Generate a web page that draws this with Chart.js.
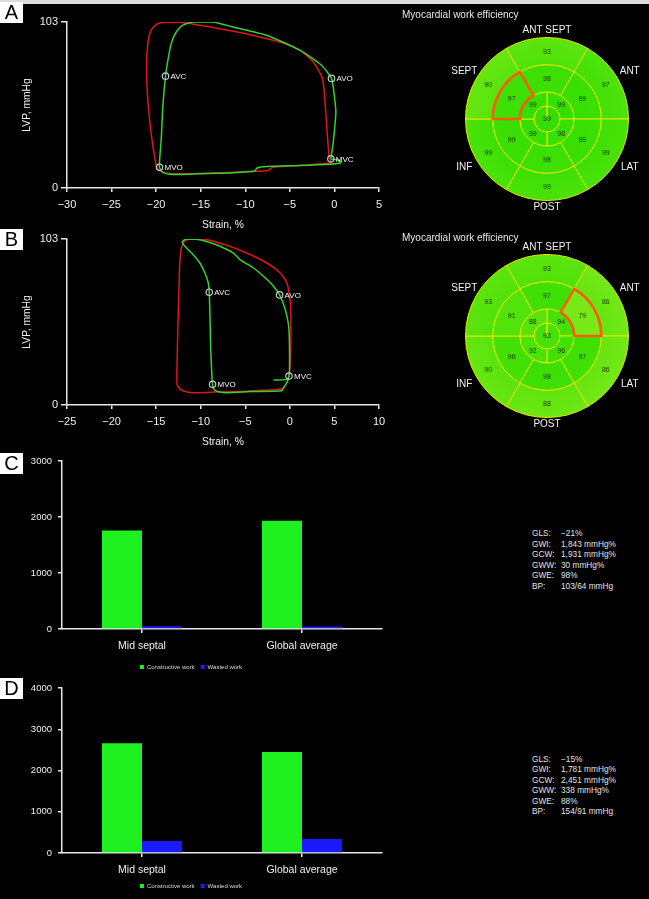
<!DOCTYPE html>
<html>
<head>
<meta charset="utf-8">
<title>Myocardial work</title>
<script src="https://cdn.jsdelivr.net/npm/chart.js@4"></script>
<style>
  body { margin: 0; background: #000; font-family: "Liberation Sans", Arial, sans-serif; }
  #page { position: relative; width: 649px; height: 899px; overflow: hidden; background: #000; }
  #page canvas { position: absolute; }
  .strip { position: absolute; left: 0; top: 0; width: 649px; height: 4px; background: #dcdcdc; }
  .tag { position: absolute; left: 0; width: 23px; height: 21px; background: #fff; color: #000;
         font-size: 20px; line-height: 21px; text-align: center; z-index: 5; }
  .bull-title { position: absolute; left: 402px; font-size: 10px; line-height: 12px; color: #e8e8e8; }
  .stats { position: absolute; left: 532px; font-size: 8.3px; color: #e4e4e4; white-space: nowrap; }
  .stats span { display: inline-block; width: 29px; }
</style>
</head>
<body>
<div id="page">
  <div class="strip"></div>

  <canvas id="loopA" width="400" height="235" style="left:0;top:0"></canvas>
  <canvas id="bullA" width="249" height="230" style="left:400px;top:0"></canvas>
  <canvas id="loopB" width="400" height="235" style="left:0;top:217px"></canvas>
  <canvas id="bullB" width="249" height="230" style="left:400px;top:217px"></canvas>
  <canvas id="barC" width="420" height="240" style="left:0;top:440px"></canvas>
  <canvas id="barD" width="420" height="231" style="left:0;top:668px"></canvas>

  <div class="tag" style="top:2px">A</div>
  <div class="tag" style="top:229px">B</div>
  <div class="tag" style="top:453px">C</div>
  <div class="tag" style="top:678px">D</div>

  <div class="bull-title" style="top:9px">Myocardial work efficiency</div>
  <div class="bull-title" style="top:232px">Myocardial work efficiency</div>

  <div class="stats" id="statsC" style="top:528px;line-height:10.6px"></div>
  <div class="stats" id="statsD" style="top:754px;line-height:10.4px"></div>
</div>

<script>
// ─────────────────────────────────────────────
// DATA – pressure-strain loops (strain %, LVP mmHg)
// ─────────────────────────────────────────────
const strainTicksA = [-30, 5];
const strainTicksB = [-25, 10];
const lvpTicks = [0, 103];

const redStrainA = [-0.33, -0.59, -0.81, -1.07, -1.34, -2.39, -3.89, -5.76, -8.38, -11.38, -14.38, -16.62, -18.5, -19.81, -20.56, -20.93, -21.08, -20.93, -20.56, -20.18, -19.88, -19.25, -17.75, -13.25, -9.5, -7.44, -6.96, -5.76, -3.14, -0.33];
const redLvpA = [15.5, 19.6, 34, 54.6, 68, 78.3, 85.5, 90, 93.7, 97.2, 100.3, 102.4, 103, 102, 97.9, 89.6, 75.2, 54.6, 34, 19.6, 12.4, 9.7, 8.9, 9.3, 10.3, 10.9, 12.8, 13.4, 14.2, 15.5];
const greenStrainA = [-0.4, -0.14, 0.16, -0.14, -0.33, -1.45, -3.89, -7.63, -11.38, -13.63, -15.87, -17, -17.75, -18.31, -18.68, -18.95, -19.25, -19.43, -19.58, -19.62, -19.25, -18.12, -15.13, -11.38, -8.94, -8.68, -7.63, -3.89, -0.51, 0.69, 0.61, -0.4];
const greenLvpA = [18.1, 27.8, 47.4, 62.8, 68, 76.2, 85.5, 94.8, 99.9, 103, 103, 101, 96.8, 89.6, 79.3, 69.4, 50.5, 29.9, 19.6, 12.8, 9.7, 8.4, 8.9, 9.5, 10.5, 12.4, 13.4, 14, 14.8, 15.5, 17.1, 18.1];

const redStrainB = [-0.33, -0.1, 0.05, 0.12, 0.05, -0.33, -1.08, -2.58, -4.83, -7.09, -9.34, -10.84, -11.78, -12.16, -12.35, -12.46, -12.57, -12.65, -12.65, -12.16, -11.03, -8.21, -4.46, -0.89, -0.33];
const redLvpB = [13.4, 18, 26.2, 46.9, 63.4, 75.7, 81.9, 88.1, 94.3, 99.1, 102.6, 103, 102, 97.4, 88.1, 67.5, 46.9, 26.2, 12.8, 9.3, 7.6, 8, 8.7, 10.1, 13.4];
const greenStrainB = [-1.83, -0.33, -0.1, -0.03, -0.1, -0.33, -0.7, -1.15, -1.83, -2.96, -4.08, -5.59, -6.34, -7.84, -9.34, -10.84, -11.78, -12.08, -11.59, -10.84, -10.09, -9.53, -9.15, -9.04, -8.97, -8.89, -8.78, -8.67, -8.4, -7.28, -4.46, -0.89, -0.7, -0.25, -0.1];
const greenLvpB = [15.5, 15.9, 18, 26.2, 46.9, 55.1, 62.3, 68.3, 73.7, 79.9, 85, 90.2, 94.3, 98.5, 101.5, 103, 102.6, 100.9, 97.4, 93.3, 88.1, 81.9, 75.7, 70, 57.2, 36.5, 22.1, 12.8, 9.1, 7.6, 8.3, 8.9, 10.7, 14.9, 18];

const markerNames = ['AVC', 'AVO', 'MVO', 'MVC'];
const markerStrainA = [-18.95, -0.33, -19.62, -0.4];
const markerLvpA = [69.4, 68, 12.8, 18.1];
const markerStrainB = [-9.04, -1.15, -8.67, -0.1];
const markerLvpB = [70, 68.3, 12.8, 18];

// ─────────────────────────────────────────────
// DATA – bullseye (myocardial work efficiency, %)
// segments clockwise from the top
// ─────────────────────────────────────────────
const wallLabels = ['ANT SEPT', 'ANT', 'LAT', 'POST', 'INF', 'SEPT'];
const basalA = [93, 97, 99, 99, 99, 90];
const midA = [98, 99, 99, 98, 99, 97];
const apicalA = [99, 98, 99, 99];
const apexA = [99];
const basalB = [93, 86, 86, 88, 90, 93];
const midB = [97, 79, 97, 98, 96, 91];
const apicalB = [94, 96, 92, 88];
const apexB = [93];

// ─────────────────────────────────────────────
// DATA – work bars (mmHg%)
// ─────────────────────────────────────────────
const workCategories = ['Mid septal', 'Global average'];
const constructiveC = [1760, 1931];
const wastedC = [50, 45];
const constructiveD = [2660, 2451];
const wastedD = [290, 338];
const workTicksC = [0, 1000, 2000, 3000];
const workTicksD = [0, 1000, 2000, 3000, 4000];

const statNames = ['GLS:', 'GWI:', 'GCW:', 'GWW:', 'GWE:', 'BP:'];
const statsC = ['\u221221%', '1,843 mmHg%', '1,931 mmHg%', '30 mmHg%', '98%', '103/64 mmHg'];
const statsD = ['\u221215%', '1,781 mmHg%', '2,451 mmHg%', '338 mmHg%', '88%', '154/91 mmHg'];


Chart.defaults.font.family = '"Liberation Sans", Arial, sans-serif';
Chart.defaults.color = '#f0f0f0';

const AXIS = '#e6e6e6';
const toPoints = (xs, ys) => xs.map((x, i) => ({ x, y: ys[i] }));
const minus = v => (v < 0 ? '\u2212' + Math.abs(v) : String(v));


// ─────────────────────────────────────────────
// LOOP CHARTS
// ─────────────────────────────────────────────
const markerLabels = {
  id: 'markerLabels',
  afterDatasetsDraw(chart) {
    const ctx = chart.ctx;
    const names = chart.data.datasets[0].names;
    ctx.save();
    ctx.font = '8px "Liberation Sans", Arial, sans-serif';
    ctx.fillStyle = '#f2f2f2';
    ctx.textBaseline = 'middle';
    chart.getDatasetMeta(0).data.forEach((pt, i) => ctx.fillText(names[i], pt.x + 5, pt.y + 0.5));
    ctx.restore();
  }
};

function loopChart(id, red, green, marks, xRange) {
  return new Chart(document.getElementById(id), {
    type: 'scatter',
    data: {
      datasets: [
        { data: marks, names: markerNames, showLine: false, pointRadius: 3.2,
          pointBorderColor: '#c8c8c8', pointBackgroundColor: 'rgba(0,0,0,0)', pointBorderWidth: 1.2 },
        { data: green, showLine: true, borderColor: '#2fd42f', borderWidth: 1.5, pointRadius: 0, tension: 0.2 },
        { data: red, showLine: true, borderColor: '#e0141a', borderWidth: 1.5, pointRadius: 0, tension: 0.2 }
      ]
    },
    options: {
      responsive: false,
      animation: false,
      events: [],
      layout: { padding: { top: 22, right: 21, left: 0, bottom: 0 } },
      plugins: { legend: { display: false }, tooltip: { enabled: false } },
      scales: {
        x: {
          type: 'linear', min: xRange[0], max: xRange[1],
          ticks: { stepSize: 5, color: '#f0f0f0', font: { size: 11 }, padding: 6, callback: minus },
          grid: { drawOnChartArea: false, color: AXIS, tickLength: 4, lineWidth: 1.5 },
          border: { color: AXIS, width: 1.5 },
          title: { display: true, text: 'Strain, %', color: '#f0f0f0', font: { size: 10.3 }, padding: { top: 0, bottom: 4 } },
          afterFit: s => { s.height = 47; }
        },
        y: {
          min: lvpTicks[0], max: lvpTicks[1],
          afterBuildTicks: s => { s.ticks = lvpTicks.map(v => ({ value: v })); },
          ticks: { color: '#f0f0f0', font: { size: 11 }, padding: 3 },
          grid: { drawOnChartArea: false, color: AXIS, tickLength: 6, lineWidth: 1.5 },
          border: { color: AXIS, width: 1.5 },
          title: { display: true, text: 'LVP, mmHg', color: '#f0f0f0', font: { size: 10.3 }, padding: { top: 21, bottom: 0 } },
          afterFit: s => { s.width = 67; }
        }
      }
    },
    plugins: [markerLabels]
  });
}

loopChart('loopA', toPoints(redStrainA, redLvpA), toPoints(greenStrainA, greenLvpA),
  toPoints(markerStrainA, markerLvpA), strainTicksA);
loopChart('loopB', toPoints(redStrainB, redLvpB), toPoints(greenStrainB, greenLvpB),
  toPoints(markerStrainB, markerLvpB), strainTicksB);


// ─────────────────────────────────────────────
// BULLSEYE CHARTS
// ─────────────────────────────────────────────
function effColour(v, rim) {
  const t = Math.min(1, (100 - v) / 40 + rim * 0.18);
  const g = [48, 222, 0], y = [175, 240, 40];
  return 'rgb(' + g.map((c, k) => Math.round(c + (y[k] - c) * t)).join(',') + ')';
}

function segmentFill(ctx) {
  const v = ctx.dataset.eff[ctx.dataIndex];
  const area = ctx.chart.chartArea;
  if (!area) return effColour(v, 0.5);
  const cx = (area.left + area.right) / 2, cy = (area.top + area.bottom) / 2;
  const r = Math.min(area.width, area.height) / 2;
  const grad = ctx.chart.ctx.createRadialGradient(cx, cy, 0, cx, cy, r);
  grad.addColorStop(0, effColour(v, 0));
  grad.addColorStop(0.6, effColour(v, 0.3));
  grad.addColorStop(1, effColour(v, 1));
  return grad;
}

const bullseyeText = {
  id: 'bullseyeText',
  afterDatasetsDraw(chart) {
    const ctx = chart.ctx;
    ctx.save();
    ctx.textAlign = 'center';
    ctx.textBaseline = 'middle';

    // highlighted segment
    chart.data.datasets.forEach((ds, di) => {
      if (ds.highlight === undefined) return;
      const arc = chart.getDatasetMeta(di).data[ds.highlight];
      const p = arc.getProps(['x', 'y', 'startAngle', 'endAngle', 'innerRadius', 'outerRadius']);
      ctx.beginPath();
      ctx.arc(p.x, p.y, p.outerRadius, p.startAngle, p.endAngle);
      ctx.arc(p.x, p.y, p.innerRadius, p.endAngle, p.startAngle, true);
      ctx.closePath();
      ctx.strokeStyle = '#ff5a12';
      ctx.lineWidth = 2.6;
      ctx.stroke();
    });

    // segment values
    ctx.font = '7px "Liberation Sans", Arial, sans-serif';
    ctx.fillStyle = '#1c3200';
    chart.data.datasets.forEach((ds, di) => {
      chart.getDatasetMeta(di).data.forEach((arc, i) => {
        const p = arc.getProps(['x', 'y', 'startAngle', 'endAngle']);
        const c = (p.endAngle - p.startAngle > 6.2) ? p : arc.getCenterPoint();
        ctx.fillText(String(ds.eff[i]), c.x, c.y + 0.5);
      });
    });

    // wall labels round the rim
    const outer = chart.getDatasetMeta(0).data[0].getProps(['x', 'y', 'outerRadius']);
    ctx.font = '10px "Liberation Sans", Arial, sans-serif';
    ctx.fillStyle = '#f2f2f2';
    wallLabels.forEach((name, k) => {
      const a = k * Math.PI / 3;
      const r = outer.outerRadius + (k % 3 === 0 ? 7 : 14);
      ctx.fillText(name, outer.x + r * Math.sin(a), outer.y - r * Math.cos(a));
    });
    ctx.restore();
  }
};

function ring(values, weight, rotation, highlight) {
  return {
    data: values.map(() => 1),
    eff: values,
    highlight,
    weight,
    rotation,
    backgroundColor: segmentFill,
    borderColor: '#e6e600',
    borderWidth: 1,
    hoverOffset: 0
  };
}

function bullseye(id, basal, mid, apical, apex, highlightMid) {
  return new Chart(document.getElementById(id), {
    type: 'doughnut',
    data: {
      labels: wallLabels,
      datasets: [
        ring(basal, 27, -30),
        ring(mid, 27, -30, highlightMid),
        ring(apical, 14, 0),
        ring(apex, 13, 0)
      ]
    },
    options: {
      responsive: false,
      animation: false,
      events: [],
      cutout: 0,
      layout: { padding: { left: 65, right: 20, top: 37, bottom: 29 } },
      plugins: { legend: { display: false }, tooltip: { enabled: false } }
    },
    plugins: [bullseyeText]
  });
}

bullseye('bullA', basalA, midA, apicalA, apexA, 5);
bullseye('bullB', basalB, midB, apicalB, apexB, 1);


// ─────────────────────────────────────────────
// WORK BAR CHARTS
// ─────────────────────────────────────────────
function workChart(id, constructive, wasted, yTicks, padTop, xHeight) {
  return new Chart(document.getElementById(id), {
    type: 'bar',
    data: {
      labels: workCategories,
      datasets: [
        { label: 'Constructive work', data: constructive, backgroundColor: '#1ff01f' },
        { label: 'Wasted work', data: wasted, backgroundColor: '#1a1aff' }
      ]
    },
    options: {
      responsive: false,
      animation: false,
      events: [],
      layout: { padding: { top: padTop, right: 38, left: 0, bottom: 0 } },
      datasets: { bar: { categoryPercentage: 0.5, barPercentage: 1 } },
      plugins: {
        tooltip: { enabled: false },
        legend: {
          position: 'bottom',
          labels: { color: '#dcdcdc', font: { size: 6 }, boxWidth: 4, boxHeight: 4, padding: 6 }
        }
      },
      scales: {
        x: {
          ticks: { color: '#f0f0f0', font: { size: 10.5 }, padding: 7 },
          grid: { offset: false, drawOnChartArea: false, color: AXIS, tickLength: 4, lineWidth: 1.5 },
          border: { color: AXIS, width: 1.5 },
          afterFit: s => { s.height = xHeight; }
        },
        y: {
          min: yTicks[0], max: yTicks[yTicks.length - 1],
          afterBuildTicks: s => { s.ticks = yTicks.map(v => ({ value: v })); },
          ticks: { color: '#f0f0f0', font: { size: 9.5 }, padding: 6, callback: v => String(v) },
          grid: { drawOnChartArea: false, color: AXIS, tickLength: 4, lineWidth: 1.5 },
          border: { color: AXIS, width: 1.5 },
          afterFit: s => { s.width = 62; }
        }
      }
    }
  });
}

workChart('barC', constructiveC, wastedC, workTicksC, 21, 29);
workChart('barD', constructiveD, wastedD, workTicksD, 20, 24);


// ─────────────────────────────────────────────
// SUMMARY TEXT
// ─────────────────────────────────────────────
function fillStats(id, values) {
  const box = document.getElementById(id);
  statNames.forEach((name, i) => {
    const line = document.createElement('div');
    const label = document.createElement('span');
    label.textContent = name;
    line.appendChild(label);
    line.appendChild(document.createTextNode(values[i]));
    box.appendChild(line);
  });
}
fillStats('statsC', statsC);
fillStats('statsD', statsD);
</script>
</body>
</html>
